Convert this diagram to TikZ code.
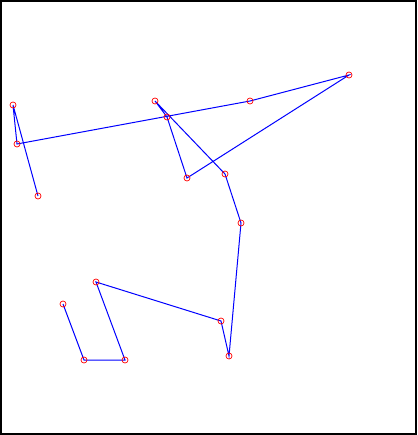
\documentclass[tikz,border=0pt]{standalone}
\begin{document}
\begin{tikzpicture}[x=1pt,y=-1pt,
  pt/.style={circle,draw=red,line width=0.7pt,minimum size=6pt,inner sep=0pt},
  trail/.style={blue,line width=1pt}]
\useasboundingbox (0,0) rectangle (417,435);
\draw[line width=2pt] (1,1) rectangle (416,434);
\coordinate (p1) at (63,304);
\coordinate (p2) at (84,360);
\coordinate (p3) at (125,360);
\coordinate (p4) at (96,282);
\coordinate (p5) at (221,321);
\coordinate (p6) at (229,356);
\coordinate (p7) at (241,223);
\coordinate (p8) at (225,174);
\coordinate (p9) at (155,101);
\coordinate (p10) at (167,117);
\coordinate (p11) at (187,178);
\coordinate (p12) at (349,75);
\coordinate (p13) at (250,101);
\coordinate (p14) at (17,144);
\coordinate (p15) at (13,105);
\coordinate (p16) at (38,196);
\draw[trail] (p1)--(p2)--(p3)--(p4)--(p5)--(p6)--(p7)--(p8)--(p9)--(p10)--(p11)--(p12)--(p13)--(p14)--(p15)--(p16);
\foreach \i in {1,...,16} \node[pt] (c\i) at (p\i) {};
\end{tikzpicture}
\end{document}
